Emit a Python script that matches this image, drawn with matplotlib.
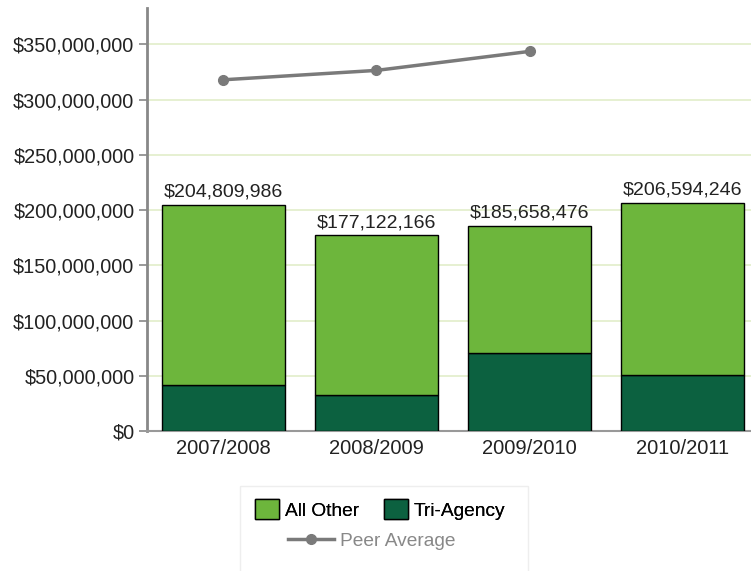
import matplotlib.pyplot as plt
from matplotlib.patches import Rectangle
from matplotlib.lines import Line2D
from matplotlib.ticker import FuncFormatter

plt.rcParams["font.family"] = ["Liberation Sans", "DejaVu Sans"]

years = ["2007/2008", "2008/2009", "2009/2010", "2010/2011"]
totals = [204809986, 177122166, 185658476, 206594246]
tri_agency = [41.6e6, 32.6e6, 70.5e6, 50.6e6]
peer_years = ["2007/2008", "2008/2009", "2009/2010"]
peer_avg = [318e6, 326.5e6, 343.7e6]

all_other = [t - a for t, a in zip(totals, tri_agency)]

light = "#6db63c"
dark = "#0c6140"
grey = "#7a7a7a"

fig = plt.figure(figsize=(7.51, 5.71), dpi=100)
ax = fig.add_axes([0.1957, 0.2452, 0.815, 0.7408])

x = list(range(len(years)))
ax.bar(x, tri_agency, width=0.8, color=dark, edgecolor="black", linewidth=1, zorder=3)
ax.bar(x, all_other, width=0.8, bottom=tri_agency, color=light,
       edgecolor="black", linewidth=1, zorder=3)

for xi, t in zip(x, totals):
    ax.annotate(f"${t:,}", (xi, t), xytext=(0, 3), textcoords="offset points",
                ha="center", va="bottom", fontsize=14, color="#222222")

px = [years.index(y) for y in peer_years]
ax.plot(px, peer_avg, color=grey, linewidth=2.5, marker="o", markersize=7, zorder=4)

ax.set_xlim(-0.5, 3.5)
ax.set_ylim(0, 383e6)
ax.set_yticks([i * 50e6 for i in range(8)])
ax.yaxis.set_major_formatter(FuncFormatter(lambda v, p: "$0" if v == 0 else f"${v:,.0f}"))
ax.set_xticks(x)
ax.set_xticklabels(years)
ax.grid(axis="y", color="#e2eec9", linewidth=1.2, zorder=0)

for s in ["top", "right"]:
    ax.spines[s].set_visible(False)
ax.spines["left"].set_color("#888888")
ax.spines["left"].set_linewidth(2)
ax.spines["bottom"].set_color("#999999")
ax.spines["bottom"].set_linewidth(1.5)
ax.tick_params(axis="y", colors="#888888", labelcolor="#222222", labelsize=14.3,
               length=6, width=1.2, pad=3)
ax.tick_params(axis="x", length=0, labelsize=14.5, labelcolor="#222222", pad=6)

# legend box
fig.patches.append(Rectangle((0.3196, -0.01), 0.3835, 0.159, transform=fig.transFigure,
                             facecolor="white", edgecolor="#eeeeee", linewidth=1))
h1 = [Rectangle((0, 0), 1, 1, facecolor=light, edgecolor="black"),
      Rectangle((0, 0), 1, 1, facecolor=dark, edgecolor="black")]
leg1 = fig.legend(h1, ["All Other", "Tri-Agency"], loc="center", ncol=2,
                  bbox_to_anchor=(0.506, 0.108), frameon=False, fontsize=13.8,
                  handlelength=1.25, handleheight=1.25, handletextpad=0.3,
                  columnspacing=1.3)
fig.add_artist(leg1)
h2 = [Line2D([0], [0], color=grey, linewidth=2.5, marker="o", markersize=7)]
fig.legend(h2, ["Peer Average"], loc="center", bbox_to_anchor=(0.495, 0.052),
           frameon=False, fontsize=13.8, handlelength=2.4, handletextpad=0.3,
           labelcolor="#888888")

fig.savefig("out.png", dpi=100)
